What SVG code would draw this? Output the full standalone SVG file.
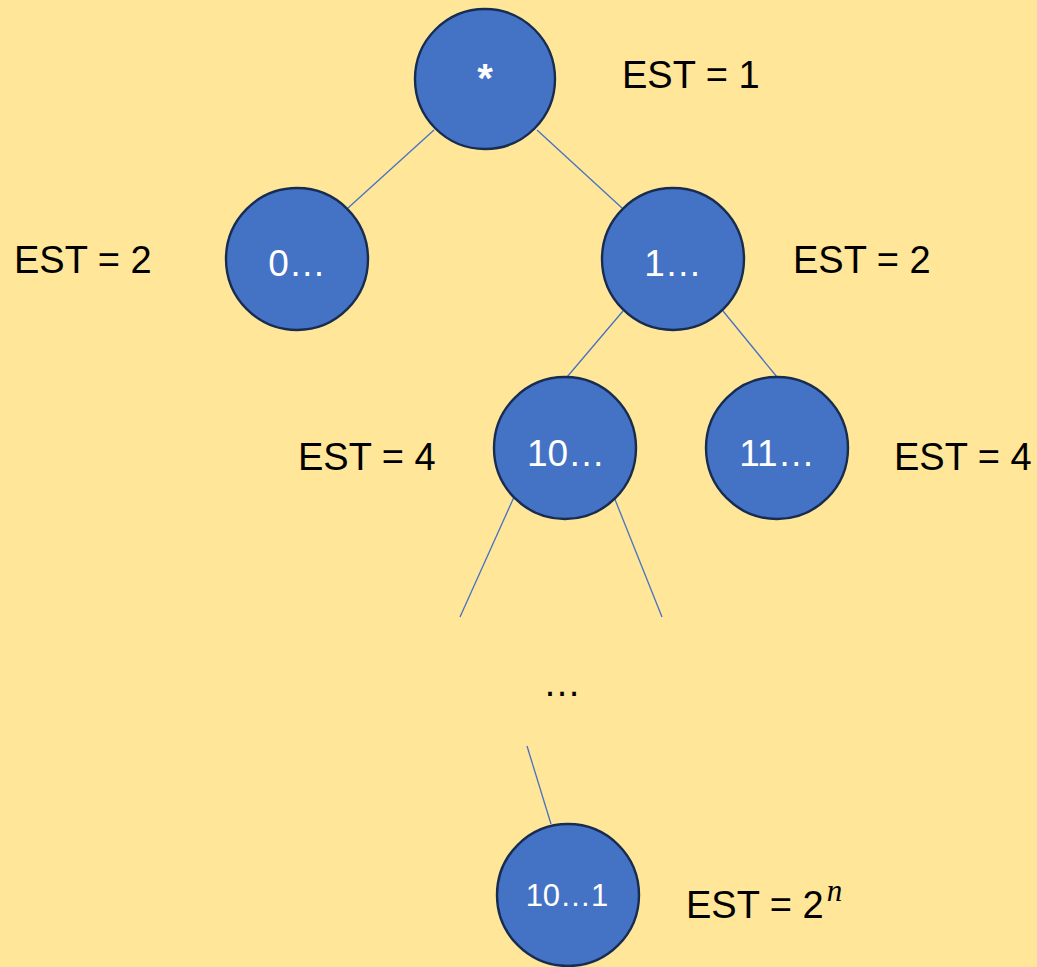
<svg xmlns="http://www.w3.org/2000/svg" width="1037" height="967" viewBox="0 0 1037 967">
<style>
.node{fill:#4472C4;stroke:#172C51;stroke-width:2.4}
.edge{stroke:#4472C4;stroke-width:1.3;fill:none}
.nt{font-family:"Liberation Sans",Arial,sans-serif;font-size:37px;fill:#FFFFFF;text-anchor:middle}
.lbl{font-family:"Liberation Sans",Arial,sans-serif;font-size:38px;fill:#000000}
</style>
<rect x="0" y="0" width="1037" height="967" fill="#FFE699"/>
<g id="connectors">
<line class="edge" x1="434" y1="130" x2="348" y2="208"/>
<line class="edge" x1="537" y1="130" x2="622" y2="208"/>
<line class="edge" x1="623" y1="311" x2="567" y2="377"/>
<line class="edge" x1="723" y1="311" x2="777" y2="377"/>
<line class="edge" x1="514" y1="497" x2="460" y2="617"/>
<line class="edge" x1="614" y1="497" x2="662" y2="617"/>
<line class="edge" x1="527" y1="746" x2="551" y2="824"/>
</g>
<g id="root"><circle class="node" cx="485" cy="79" r="70"/><text class="nt" x="485" y="92" style="font-size:40px;font-weight:bold">*</text></g>
<g id="n0"><circle class="node" cx="297" cy="259" r="71"/><text class="nt" x="297" y="276">0…</text></g>
<g id="n1"><circle class="node" cx="673" cy="259" r="71"/><text class="nt" x="673" y="276">1…</text></g>
<g id="n10"><circle class="node" cx="565" cy="448" r="71"/><text class="nt" x="566" y="466">10…</text></g>
<g id="n11"><circle class="node" cx="777" cy="448" r="71"/><text class="nt" x="777" y="466">11…</text></g>
<g id="n101"><circle class="node" cx="568" cy="895" r="71"/><text class="nt" x="567" y="906" style="font-size:31px">10…1</text></g>
<g id="labels">
<text class="lbl" x="622" y="88">EST = 1</text>
<text class="lbl" x="14" y="273">EST = 2</text>
<text class="lbl" x="793" y="273">EST = 2</text>
<text class="lbl" x="298" y="470">EST = 4</text>
<text class="lbl" x="894" y="470">EST = 4</text>
<text class="lbl" x="686" y="918">EST = 2<tspan style="font-family:'Liberation Serif',serif;font-style:italic;font-size:31px" dx="3" dy="-17">n</tspan></text>
<text class="lbl" x="562" y="696" style="text-anchor:middle;font-size:38px">…</text>
</g>
</svg>
